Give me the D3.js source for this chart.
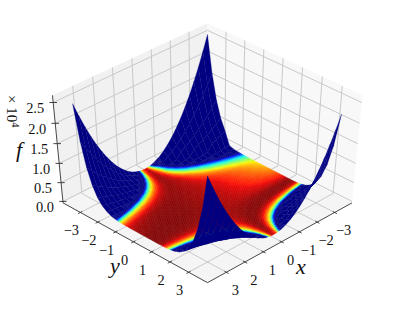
<!DOCTYPE html>
<html>
<head>
<meta charset="utf-8">
<script src="https://d3js.org/d3.v7.min.js"></script>
<style>
  html, body { margin: 0; padding: 0; background: #fff; }
  text { font-family: "Liberation Serif", serif; fill: #111; }
</style>
</head>
<body>
<div id="chart"></div>
<script>
// surface samples, one row per y value, read across x
var xValues = [-3.5,-3.25,-3,-2.75,-2.5,-2.25,-2,-1.75,-1.5,-1.25,-1,-0.75,-0.5,-0.25,0,0.25,0.5,0.75,1,1.25,1.5,1.75,2,2.25,2.5,2.75,3,3.25,3.5];
var yValues = xValues.slice();
var fValues = [
[26070,22526,19241,16213,13446,10938,8688,6697,4966,3493,2279,1325,629,192,14,95,436,1035,1893,3010,4386,6021,7915,10068,12480,15151,18081,21270,24718],
[17188,14858,12698,10708,8887,7236,5755,4443,3302,2329,1527,458,262,126,14,60,276,661,1217,1941,2836,3900,5134,6538,8111,9854,11767,13849,16102],
[11029,9540,8159,6886,5722,4665,3716,2875,2143,687,478,313,194,82,14,37,169,408,755,1210,1774,2445,3224,4111,5106,6210,7421,8740,10168],
[6871,5949,5093,4304,3581,2925,2336,766,591,442,318,222,151,55,14,23,99,241,450,726,1067,1476,1951,2492,3100,3775,4516,5324,6198],
[4147,3595,3082,2609,860,716,587,474,375,290,220,165,94,37,14,15,56,136,256,415,614,853,1131,1448,1805,2202,2637,3113,3628],
[870,765,667,577,494,419,352,292,240,195,159,104,57,26,14,11,31,73,138,226,336,468,623,801,1001,1224,1470,1738,2028],
[480,428,379,334,293,256,222,192,166,136,95,62,36,19,14,10,18,38,70,115,173,243,325,419,526,645,777,921,1077],
[306,277,251,227,205,184,165,147,115,87,64,43,28,18,14,9,11,19,34,55,83,118,158,206,260,320,387,461,541],
[212,197,182,169,157,139,116,94,77,60,46,34,24,17,14,10,8,11,16,25,38,53,72,95,121,150,182,218,257],
[165,156,144,126,110,94,81,68,55,45,36,28,21,16,14,10,8,7,9,12,16,23,31,41,53,67,82,99,118],
[134,120,107,95,84,74,63,54,46,38,32,25,20,16,14,11,8,6,6,6,7,10,13,18,23,29,37,45,54],
[110,99,90,80,71,63,56,48,41,34,29,23,20,15,14,11,8,6,5,4,4,5,6,8,10,14,18,22,28],
[100,91,82,73,65,59,51,44,38,33,28,23,20,15,14,11,8,6,5,3,3,3,3,4,5,7,10,13,16],
[92,83,76,69,62,55,49,42,38,32,27,23,20,15,14,11,8,6,4,3,2,2,2,2,3,4,6,8,10],
[84,76,69,63,57,50,45,40,35,31,26,23,18,15,14,11,9,6,4,3,2,1,1,1,1,2,3,4,6],
[73,68,62,56,51,47,42,37,34,30,25,22,19,16,14,11,9,7,5,4,2,1,1,0,0,0,1,2,3],
[59,54,50,46,43,39,35,32,29,26,24,20,18,16,14,12,10,8,6,5,4,2,2,1,0,0,0,0,0],
[42,39,37,34,32,30,28,26,24,22,21,19,17,16,14,13,11,10,9,8,7,6,5,4,4,3,2,2,1],
[14,14,14,14,14,14,14,14,14,14,14,14,14,14,14,14,14,14,14,14,14,14,14,14,14,14,14,14,14],
[1,1,1,1,2,2,3,4,5,6,7,9,10,12,14,16,19,21,24,27,29,33,36,39,43,47,51,55,59],
[37,29,23,17,12,8,5,3,2,1,2,4,6,10,14,20,26,33,41,50,60,71,83,96,110,125,140,157,174],
[186,154,125,100,77,57,41,27,16,8,4,2,3,7,14,24,37,53,72,94,119,147,178,212,249,289,332,378,426],
[551,464,385,314,250,193,144,102,67,40,20,7,2,5,14,31,56,87,126,173,227,288,357,433,516,607,705,811,923],
[1290,1097,919,757,610,480,365,266,183,115,64,28,7,3,14,41,84,143,217,307,413,534,672,825,993,1178,1378,1594,1826],
[2632,2247,1893,1569,1275,1012,779,577,405,264,153,73,23,3,14,56,128,230,363,526,720,944,1199,1484,1800,2146,2522,2929,3367],
[4894,4190,3540,2945,2405,1920,1489,1113,792,525,314,157,54,7,14,76,193,365,591,872,1208,1598,2044,2544,3099,3708,4372,5091,5865],
[8503,7293,6175,5150,4218,3379,2633,1980,1420,954,580,299,111,16,14,105,289,567,937,1400,1956,2605,3347,4182,5110,6132,7246,8453,9753],
[14017,12036,10206,8526,6998,5620,4394,3318,2394,1620,997,525,204,34,14,146,428,862,1446,2182,3068,4105,5293,6632,8122,9763,11554,13497,15590],
[22148,19035,16157,13515,11109,8938,7004,5305,3842,2614,1623,867,347,63,14,202,625,1284,2179,3309,4675,6277,8115,10189,12498,15044,17825,20842,24094]
];
var xTicks = [-3,-2,-1,0,1,2,3];
var yTicks = [-3,-2,-1,0,1,2,3];
var zTicks = [0,5000,10000,15000,20000,25000];

var width = 395, height = 309;
var svg = d3.select("#chart").append("svg")
    .attr("width", width).attr("height", height)
    .style("display", "block");

// unit cube coordinates
var zMin = -400, zMax = 26700, lim = 4;
var sx = d3.scaleLinear().domain([-lim, lim]).range([-0.5, 0.5]);
var sy = d3.scaleLinear().domain([-lim, lim]).range([-0.5, 0.5]);
var sz = d3.scaleLinear().domain([zMin, zMax]).range([-0.5, 0.5]);

// camera: 45 deg elevation, 45 deg azimuth, distance 10, like mplot3d
var elev = Math.PI / 4, azim = Math.PI / 4, dist = 10;
var dir = [Math.cos(elev) * Math.cos(azim), Math.cos(elev) * Math.sin(azim), Math.sin(elev)];
var right = [-Math.sin(azim), Math.cos(azim), 0];
var up = [-Math.sin(elev) * Math.cos(azim), -Math.sin(elev) * Math.sin(azim), Math.cos(elev)];
function dot(a, b) { return a[0] * b[0] + a[1] * b[1] + a[2] * b[2]; }

var px = d3.scaleLinear().domain([-1, 1]).range([207.5 - 211.5, 207.5 + 211.5]);
var py = d3.scaleLinear().domain([-1, 1]).range([151 + 152, 151 - 152]);

function depth(x, y, z) {
    return dot([sx(x), sy(y), sz(z)], dir);
}
function project(x, y, z) {
    var p = [sx(x), sy(y), sz(z)];
    var s = dist / (dist - dot(p, dir));
    return [px(dot(p, right) * s), py(dot(p, up) * s)];
}
function poly(pts) {
    return pts.map(function (p) { return p[0].toFixed(2) + "," + p[1].toFixed(2); }).join(" ");
}

// panes
svg.append("polygon").attr("fill", "#f1f1f1")
    .attr("points", poly([project(lim, -lim, zMin), project(-lim, -lim, zMin), project(-lim, -lim, zMax), project(lim, -lim, zMax)]));
svg.append("polygon").attr("fill", "#f8f8f8")
    .attr("points", poly([project(-lim, -lim, zMin), project(-lim, lim, zMin), project(-lim, lim, zMax), project(-lim, -lim, zMax)]));
svg.append("polygon").attr("fill", "#f5f5f5")
    .attr("points", poly([project(lim, -lim, zMin), project(lim, lim, zMin), project(-lim, lim, zMin), project(-lim, -lim, zMin)]));

// grid lines on the panes
var grid = svg.append("g").attr("fill", "none").attr("stroke", "#c9c9c9").attr("stroke-width", 1);
function gridLine(pts) { grid.append("polyline").attr("points", poly(pts)); }
xTicks.forEach(function (t) {
    gridLine([project(t, lim, zMin), project(t, -lim, zMin), project(t, -lim, zMax)]);
});
yTicks.forEach(function (t) {
    gridLine([project(lim, t, zMin), project(-lim, t, zMin), project(-lim, t, zMax)]);
});
zTicks.forEach(function (t) {
    gridLine([project(lim, -lim, t), project(-lim, -lim, t), project(-lim, lim, t)]);
});

// axis lines and ticks
var axes = svg.append("g").attr("fill", "none").attr("stroke", "#333").attr("stroke-width", 0.9);
function axisLine(a, b) { axes.append("polyline").attr("points", poly([a, b])); }
axisLine(project(lim, -lim, zMin), project(lim, lim, zMin));
axisLine(project(lim, lim, zMin), project(-lim, lim, zMin));
axisLine(project(lim, -lim, zMin), project(lim, -lim, zMax));
yTicks.forEach(function (t) { axisLine(project(lim + 0.12, t, zMin), project(lim - 0.1, t, zMin)); });
xTicks.forEach(function (t) { axisLine(project(t, lim + 0.12, zMin), project(t, lim - 0.1, zMin)); });
zTicks.forEach(function (t) { axisLine(project(lim + 0.1, -lim - 0.1, t), project(lim - 0.1, -lim + 0.1, t)); });

// tick labels
function tickFmt(t) { return String(t).replace("-", "\u2212"); }
var labels = svg.append("g").attr("font-size", 14.4);
yTicks.forEach(function (t) {
    var p = project(lim, t, zMin);
    labels.append("text").attr("x", p[0] - 9).attr("y", p[1] + 23)
        .attr("text-anchor", "middle").text(tickFmt(t));
});
xTicks.forEach(function (t) {
    var p = project(t, lim, zMin);
    labels.append("text").attr("x", p[0] + 9).attr("y", p[1] + 23)
        .attr("text-anchor", "middle").text(tickFmt(t));
});
zTicks.forEach(function (t) {
    var p = project(lim, -lim, t);
    labels.append("text").attr("x", p[0] - 9).attr("y", p[1] + 10.5)
        .attr("text-anchor", "end").text((t / 10000).toFixed(1));
});

// axis titles
svg.append("text").attr("x", 115).attr("y", 273).attr("font-size", 22).attr("font-style", "italic")
    .attr("text-anchor", "middle").text("y");
svg.append("text").attr("x", 301).attr("y", 274).attr("font-size", 22).attr("font-style", "italic")
    .attr("text-anchor", "middle").text("x");
svg.append("text").attr("x", 19).attr("y", 157).attr("font-size", 22).attr("font-style", "italic")
    .attr("text-anchor", "middle").text("f");

// offset text of the z axis, turned on its side
var offset = svg.append("text").attr("transform", "translate(7,95) rotate(90)").attr("font-size", 15);
offset.append("tspan").text("\u00d7 10");
offset.append("tspan").attr("font-size", 10.5).attr("dy", -5).text("4");

// jet colormap reversed, saturating at vmax, low values stretched a little
var vmax = 265;
var jetR = d3.scaleLinear().domain([0, 0.35, 0.66, 0.89, 1]).range([0, 0, 1, 1, 0.5]);
var jetG = d3.scaleLinear().domain([0, 0.125, 0.375, 0.64, 0.91, 1]).range([0, 0, 1, 1, 0, 0]);
var jetB = d3.scaleLinear().domain([0, 0.11, 0.34, 0.65, 1]).range([0.5, 1, 1, 0, 0]);
var tScale = d3.scalePow().exponent(1.2).domain([0, vmax]).range([1, 0]).clamp(true);
function color(z) {
    var t = tScale(z);
    return "rgb(" + Math.round(jetR(t) * 255) + "," + Math.round(jetG(t) * 255) + "," + Math.round(jetB(t) * 255) + ")";
}

// surface cells; cells inside the colour range get shaded in smaller steps
var shade = 4, cells = [];
function addCell(x0, x1, y0, y1, z00, z10, z01, z11) {
    var zm = (z00 + z10 + z01 + z11) / 4;
    cells.push({
        d: depth((x0 + x1) / 2, (y0 + y1) / 2, zm),
        c: color(zm),
        pts: [project(x0, y0, z00), project(x1, y0, z10), project(x1, y1, z11), project(x0, y1, z01)]
    });
}
function bilinear(a, b, c, d, u, v) {
    return a * (1 - u) * (1 - v) + b * u * (1 - v) + c * (1 - u) * v + d * u * v;
}
for (var j = 0; j < yValues.length - 1; j++) {
    for (var i = 0; i < xValues.length - 1; i++) {
        var x0 = xValues[i], x1 = xValues[i + 1], y0 = yValues[j], y1 = yValues[j + 1];
        var a = fValues[j][i], b = fValues[j][i + 1], c = fValues[j + 1][i], d = fValues[j + 1][i + 1];
        if (Math.min(a, b, c, d) >= vmax) {
            addCell(x0, x1, y0, y1, a, b, c, d);
            continue;
        }
        for (var m = 0; m < shade; m++) {
            for (var n = 0; n < shade; n++) {
                var u0 = n / shade, u1 = (n + 1) / shade, v0 = m / shade, v1 = (m + 1) / shade;
                addCell(x0 + (x1 - x0) * u0, x0 + (x1 - x0) * u1, y0 + (y1 - y0) * v0, y0 + (y1 - y0) * v1,
                    bilinear(a, b, c, d, u0, v0), bilinear(a, b, c, d, u1, v0),
                    bilinear(a, b, c, d, u0, v1), bilinear(a, b, c, d, u1, v1));
            }
        }
    }
}
cells.sort(function (p, q) { return p.d - q.d; });

svg.append("g").selectAll("polygon")
    .data(cells)
    .enter().append("polygon")
    .attr("points", function (s) { return poly(s.pts); })
    .attr("fill", function (s) { return s.c; })
    .attr("stroke", function (s) { return s.c; })
    .attr("stroke-width", 0.3);
</script>
</body>
</html>
